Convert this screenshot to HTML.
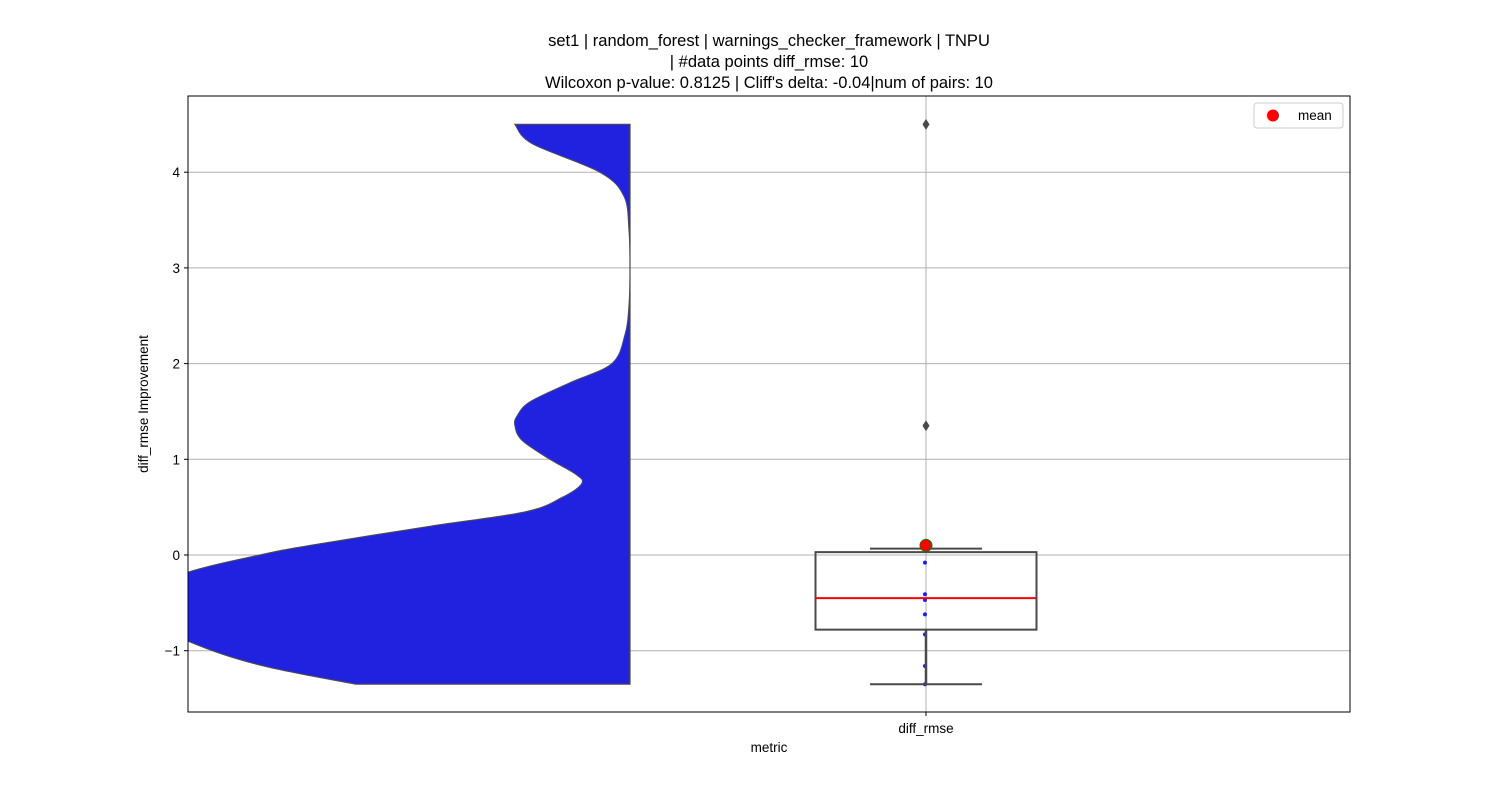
<!DOCTYPE html>
<html><head><meta charset="utf-8"><style>
body{margin:0;background:#fff;font-family:"Liberation Sans","DejaVu Sans",sans-serif}
</style></head><body>
<svg id="chart" width="1500" height="800" xmlns="http://www.w3.org/2000/svg"></svg>
<script>
const yTicks=[-1,0,1,2,3,4];
const category=["diff_rmse"];
const points=[-1.35,-1.16,-0.83,-0.62,-0.47,-0.41,-0.08,0.066,1.35,4.5];
const boxStats={q1:-0.78,median:-0.45,q3:0.03,whiskLo:-1.35,whiskHi:0.066};
const outliers=[1.35,4.5];
const meanVal=0.1;
const violinY=[4.5,4.3,4.0,3.75,3.4,3.0,2.6,2.3,2.0,1.8,1.6,1.45,1.35,1.2,1.0,0.85,0.75,0.6,0.45,0.3,0.1,0,-0.18,-0.5,-0.9,-1.15,-1.35];
const violinW=[115,98,30,6,1,0,1,5,18,60,100,113,115,108,80,55,48,68,105,200,320,370,442,520,442,370,274];
const NS="http://www.w3.org/2000/svg";
const svg=document.getElementById('chart');
const L=188,R=1350,T=96,B=712;
const y=v=>555-v*95.7;
const xC=926;
function el(t,a,p){const e=document.createElementNS(NS,t);for(const k in a)e.setAttribute(k,a[k]);(p||svg).appendChild(e);return e;}
const defs=el('defs',{});const cp=el('clipPath',{id:'clip'},defs);el('rect',{x:L,y:T,width:R-L,height:B-T},cp);
yTicks.forEach(v=>{const g=el('line',{x1:L,x2:R,y1:y(v),y2:y(v),stroke:'#b0b0b0','stroke-width':1});

el('line',{x1:L-4,x2:L,y1:y(v),y2:y(v),stroke:'#000'});
const t=el('text',{x:L-8,y:y(v)+5,'text-anchor':'end','font-size':13.5});t.textContent=(v<0?'\u2212'+(-v):v);
});
const vg=el('line',{x1:xC,x2:xC,y1:T,y2:B,stroke:'#b0b0b0'});

let pts=violinY.map((v,i)=>[630-violinW[i],y(v)]);
let d='M630,'+y(violinY[0])+' L'+pts[0][0]+','+pts[0][1];
for(let i=0;i<pts.length-1;i++){const p0=pts[Math.max(0,i-1)],p1=pts[i],p2=pts[i+1],p3=pts[Math.min(pts.length-1,i+2)];
d+=` C${p1[0]+(p2[0]-p0[0])/6},${p1[1]+(p2[1]-p0[1])/6} ${p2[0]-(p3[0]-p1[0])/6},${p2[1]-(p3[1]-p1[1])/6} ${p2[0]},${p2[1]}`;}
d+=' L630,'+y(violinY[violinY.length-1])+' Z';
const vp=el('path',{d:d,fill:'#2121e0',stroke:'#4a4a4a','stroke-width':1.2,'clip-path':'url(#clip)'});

const bw=110.5;
points.forEach(v=>{const c=el('circle',{cx:xC-1,cy:y(v),r:2,fill:'#1a1aff'});
});
const wl=el('line',{x1:xC,x2:xC,y1:y(boxStats.q1),y2:y(boxStats.whiskLo),stroke:'#4a4a4a','stroke-width':2.5});

const wh=el('line',{x1:xC,x2:xC,y1:y(boxStats.q3),y2:y(boxStats.whiskHi),stroke:'#4a4a4a','stroke-width':2.5});

[boxStats.whiskLo,boxStats.whiskHi].forEach(v=>{const c=el('line',{x1:xC-56,x2:xC+56,y1:y(v),y2:y(v),stroke:'#4a4a4a','stroke-width':2});
});
const box=el('rect',{x:xC-bw,y:y(boxStats.q3),width:2*bw,height:y(boxStats.q1)-y(boxStats.q3),fill:'none',stroke:'#4a4a4a','stroke-width':2});

const med=el('line',{x1:xC-bw,x2:xC+bw,y1:y(boxStats.median),y2:y(boxStats.median),stroke:'red','stroke-width':2});

outliers.forEach(v=>{const o=el('path',{d:`M${xC},${y(v)-5.5} L${xC+3.5},${y(v)} L${xC},${y(v)+5.5} L${xC-3.5},${y(v)} Z`,fill:'#4a4a4a'});
});
const mc=el('circle',{cx:xC,cy:y(meanVal),r:6,fill:'red',stroke:'green','stroke-width':1});

const fr=el('rect',{x:L,y:T,width:R-L,height:B-T,fill:'none',stroke:'#000','stroke-width':1});

el('line',{x1:xC,x2:xC,y1:B,y2:B+4,stroke:'#000'});
const xl=el('text',{x:xC,y:733,'text-anchor':'middle','font-size':13.5});xl.textContent=category[0];

const xt=el('text',{x:769,y:752,'text-anchor':'middle','font-size':13.5});xt.textContent='metric';

const yt=el('text',{x:148,y:404,'text-anchor':'middle','font-size':13.5,transform:'rotate(-90 148 404)'});yt.textContent='diff_rmse Improvement';

['set1 | random_forest | warnings_checker_framework | TNPU','| #data points diff_rmse: 10',"Wilcoxon p-value: 0.8125 | Cliff's delta: -0.04|num of pairs: 10"].forEach((s,i)=>{
const t=el('text',{x:769,y:46+i*21,'text-anchor':'middle','font-size':16.5});t.textContent=s;
});
const lg=el('g',{});
el('rect',{x:1254,y:103,width:89,height:25,rx:3,fill:'#fff',stroke:'#ccc'},lg);
el('circle',{cx:1273,cy:115.5,r:6,fill:'red'},lg);
const lt=el('text',{x:1298,y:120,'font-size':13.5},lg);lt.textContent='mean';
</script>
</body></html>
